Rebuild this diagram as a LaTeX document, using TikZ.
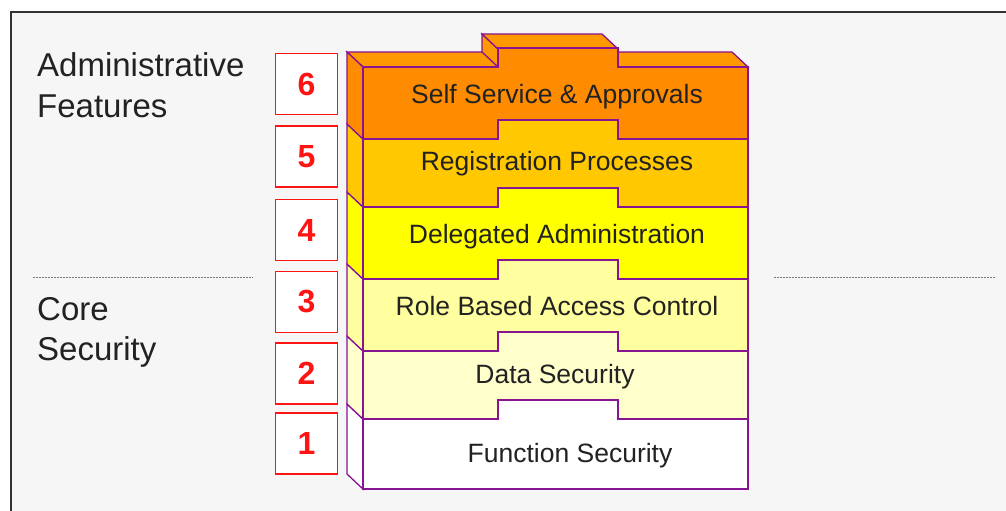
\documentclass[tikz,border=0pt]{standalone}
\usepackage{fontspec}
\setmainfont{Liberation Sans}
\definecolor{stackline}{RGB}{135,20,145}
\definecolor{lsix}{RGB}{255,140,0}
\definecolor{lsixtop}{RGB}{255,153,0}
\definecolor{lfive}{RGB}{255,200,0}
\definecolor{lfour}{RGB}{255,255,0}
\definecolor{lthree}{RGB}{255,255,160}
\definecolor{ltwo}{RGB}{255,255,204}
\definecolor{lone}{RGB}{255,255,255}
\definecolor{numred}{RGB}{255,20,20}
\definecolor{bgc}{RGB}{246,246,246}
\definecolor{framec}{RGB}{50,50,50}
\definecolor{txt}{RGB}{34,34,34}
\definecolor{sepgray}{RGB}{120,120,120}
\newcommand\stacklayer[3]{%
  \filldraw[edge, fill=#3] (347,#1-15) -- (363,#1) -- (363,#2) -- (347,#2-15) -- cycle;
  \filldraw[edge, fill=#3] (363,#2) -- (498,#2) -- (498,#2-19) -- (618,#2-19) -- (618,#2) -- (748,#2) -- (748,#1) -- (618,#1) -- (618,#1-19) -- (498,#1-19) -- (498,#1) -- (363,#1) -- cycle;
}
\newcommand\baselayer[3]{%
  \filldraw[edge, fill=#3] (347,#1-15) -- (363,#1) -- (363,#2) -- (347,#2-15) -- cycle;
  \filldraw[edge, fill=#3] (363,#2) -- (748,#2) -- (748,#1) -- (618,#1) -- (618,#1-19) -- (498,#1-19) -- (498,#1) -- (363,#1) -- cycle;
}
\begin{document}
\begin{tikzpicture}[x=1pt,y=-1pt,
  edge/.style={draw=stackline, line width=1.3pt, line join=miter},
  numbox/.style={draw=numred, line width=1.6pt, fill=white, minimum width=62pt, minimum height=61pt, inner sep=0pt, text=numred, font=\fontsize{32}{32}\selectfont\bfseries},
  layertext/.style={text=txt, font=\fontsize{26.5}{30}\selectfont, inner sep=0pt, anchor=base},
  sidelabel/.style={text=txt, font=\fontsize{33}{40}\selectfont, inner sep=0pt, anchor=base west},
  sepline/.style={draw=sepgray, line width=1pt, dash pattern=on 2pt off 1pt}]
\useasboundingbox (0,0) rectangle (1006,511);
\fill[white] (0,0) rectangle (1006,511);
\fill[bgc] (11,12) rectangle (1006,511);
\draw[framec, line width=2pt] (11,511) -- (11,12) -- (1006,12);
% separators
\coordinate (sl1) at (33,277);
\coordinate (sl2) at (253,277);
\coordinate (sr1) at (774,277);
\coordinate (sr2) at (995,277);
\draw[sepline] (sl1) -- (sl2);
\draw[sepline] (sr1) -- (sr2);
% left labels
\node[sidelabel] (adm1) at (37,77) {Administrative};
\node[sidelabel] (adm2) at (37,117) {Features};
\node[sidelabel] (core1) at (37,320) {Core};
\node[sidelabel] (core2) at (37,360) {Security};
% top face
\filldraw[edge, fill=lsixtop] (347,52) -- (732,52) -- (748,67) -- (363,67) -- cycle;
\filldraw[edge, fill=lsixtop] (482,34) -- (498,49) -- (498,67) -- (482,52) -- cycle;
\filldraw[edge, fill=lsixtop] (482,34) -- (602,34) -- (618,49) -- (498,49) -- cycle;
% layers
\baselayer{419}{489}{lone}
\stacklayer{351}{419}{ltwo}
\stacklayer{279}{351}{lthree}
\stacklayer{207}{279}{lfour}
\stacklayer{139}{207}{lfive}
\stacklayer{67}{139}{lsix}
% layer texts
\node[layertext] (t6) at (557,103) {Self Service \& Approvals};
\node[layertext] (t5) at (557,170) {Registration Processes};
\node[layertext] (t4) at (557,243) {Delegated Administration};
\node[layertext] (t3) at (557,315) {Role Based Access Control};
\node[layertext] (t2) at (555,383) {Data Security};
\node[layertext] (t1) at (570,462) {Function Security};
% number boxes
\node[numbox] (n6) at (306.5,84) {6};
\node[numbox] (n5) at (306.5,156.5) {5};
\node[numbox] (n4) at (306.5,230) {4};
\node[numbox] (n3) at (306.5,302) {3};
\node[numbox] (n2) at (306.5,373.5) {2};
\node[numbox] (n1) at (306.5,443.5) {1};
\end{tikzpicture}
\end{document}
